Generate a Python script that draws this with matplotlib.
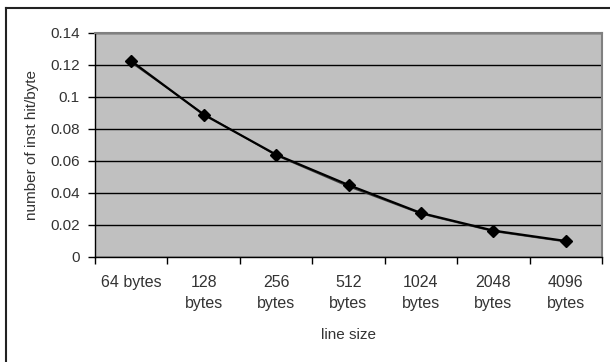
import numpy as np
import matplotlib.pyplot as plt
from matplotlib.lines import Line2D

plt.rcParams['font.family'] = ['Liberation Sans', 'DejaVu Sans']

# dados
categorias = ['64 bytes', '128\nbytes', '256\nbytes', '512\nbytes',
              '1024\nbytes', '2048\nbytes', '4096\nbytes']
hit_por_byte = [0.1225, 0.089, 0.064, 0.045, 0.0275, 0.0165, 0.010]
tendencia = [0.1215, 0.0895, 0.0635, 0.0440, 0.0270, 0.0160, 0.0095]

cor_texto = '#333333'

fig = plt.figure(figsize=(6.1, 3.62), dpi=100)
ax = fig.add_axes([95 / 610, 1 - 257 / 362, 507 / 610, 224 / 362])
ax.set_facecolor('#c0c0c0')

x = np.arange(len(categorias))
ax.plot(x, tendencia, '-', color='#404040', linewidth=1.0, zorder=3)
ax.plot(x, hit_por_byte, 'D-', color='black', linewidth=1.6,
        markersize=6, zorder=4)

ax.set_xlim(-0.5, len(categorias) - 0.5)
ax.set_ylim(0, 0.14)
ax.set_yticks(np.arange(0, 0.141, 0.02))
ax.set_yticklabels(['0', '0.02', '0.04', '0.06', '0.08', '0.1', '0.12', '0.14'],
                   fontsize=11, color=cor_texto)
ax.yaxis.grid(True, color='black', linewidth=1.0)
ax.set_axisbelow(True)

ax.set_xticks(np.arange(-0.5, len(categorias), 1.0))
ax.set_xticklabels([])
ax.set_xticks(x, minor=True)
ax.set_xticklabels(categorias, minor=True, fontsize=11.5, color=cor_texto,
                   va='top', linespacing=1.5)
ax.tick_params(axis='x', which='minor', length=0, pad=13)
ax.tick_params(axis='x', which='major', length=5, width=1, direction='out')
ax.tick_params(axis='y', length=5, width=1, direction='out', pad=6)

for s in ['top', 'right']:
    ax.spines[s].set_color('#808080')
    ax.spines[s].set_linewidth(1.5)
for s in ['left', 'bottom']:
    ax.spines[s].set_color('black')
    ax.spines[s].set_linewidth(1.0)

ax.set_xlabel('line size', fontsize=11, color=cor_texto, labelpad=12)
ax.set_ylabel('number of inst hit/byte', fontsize=11, color=cor_texto, labelpad=8)

# moldura externa (so topo e esquerda visiveis)
fig.add_artist(Line2D([6 / 610, 1], [1 - 7.5 / 362, 1 - 7.5 / 362],
                      transform=fig.transFigure, color='#222222', linewidth=1.5))
fig.add_artist(Line2D([6 / 610, 6 / 610], [0, 1 - 7.5 / 362],
                      transform=fig.transFigure, color='#222222', linewidth=1.5))

plt.savefig('out.png', dpi=100, facecolor='white')
plt.close()
